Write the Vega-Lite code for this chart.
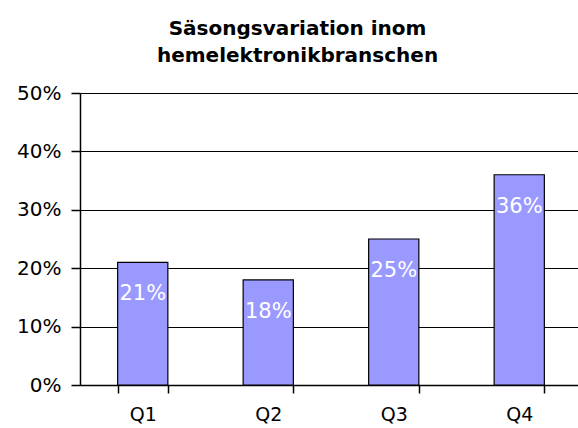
{
  "$schema": "https://vega.github.io/schema/vega-lite/v6.json",
  "autosize": "none",
  "width": 502,
  "height": 292,
  "padding": {"left": 80, "top": 93, "right": 0, "bottom": 43},
  "background": "white",
  "title": {
    "text": ["Säsongsvariation inom", "hemelektronikbranschen"],
    "font": "DejaVu Sans",
    "fontSize": 20,
    "fontWeight": "bold",
    "color": "black",
    "anchor": "start",
    "align": "center",
    "dx": 281,
    "offset": 17,
    "lineHeight": 27,
    "letterSpacing": 2.4
  },
  "data": {
    "values": [
      {"kvartal": "Q1", "andel": 0.21},
      {"kvartal": "Q2", "andel": 0.18},
      {"kvartal": "Q3", "andel": 0.25},
      {"kvartal": "Q4", "andel": 0.36}
    ]
  },
  "config": {
    "view": {"stroke": null},
    "axis": {
      "labelFont": "DejaVu Sans",
      "labelFontSize": 20,
      "labelColor": "black",
      "domainColor": "black",
      "tickColor": "black",
      "gridColor": "black"
    }
  },
  "encoding": {
    "x": {
      "field": "kvartal",
      "type": "nominal",
      "scale": {"paddingInner": 0.6, "paddingOuter": 0.3},
      "axis": {
        "title": null,
        "labelAngle": 0,
        "labelFontSize": 19,
        "tickBand": "extent",
        "tickSize": 8,
        "tickWidth": 1.5,
        "domainWidth": 1.5,
        "labelPadding": 12,
        "grid": false
      }
    },
    "y": {
      "field": "andel",
      "type": "quantitative",
      "scale": {"domain": [0, 0.5], "nice": false},
      "axis": {
        "title": null,
        "format": ".0%",
        "values": [0, 0.1, 0.2, 0.3, 0.4, 0.5],
        "tickSize": 9,
        "tickWidth": 1.5,
        "domainWidth": 1.5,
        "grid": true,
        "gridWidth": 1.2,
        "labelPadding": 10
      }
    }
  },
  "layer": [
    {
      "mark": {"type": "bar", "color": "#9999FF", "stroke": "black", "strokeWidth": 1.2}
    },
    {
      "mark": {"type": "text", "color": "white", "font": "DejaVu Sans", "fontSize": 21, "baseline": "middle", "dy": 32},
      "encoding": {"text": {"field": "andel", "type": "quantitative", "format": ".0%"}}
    }
  ]
}
